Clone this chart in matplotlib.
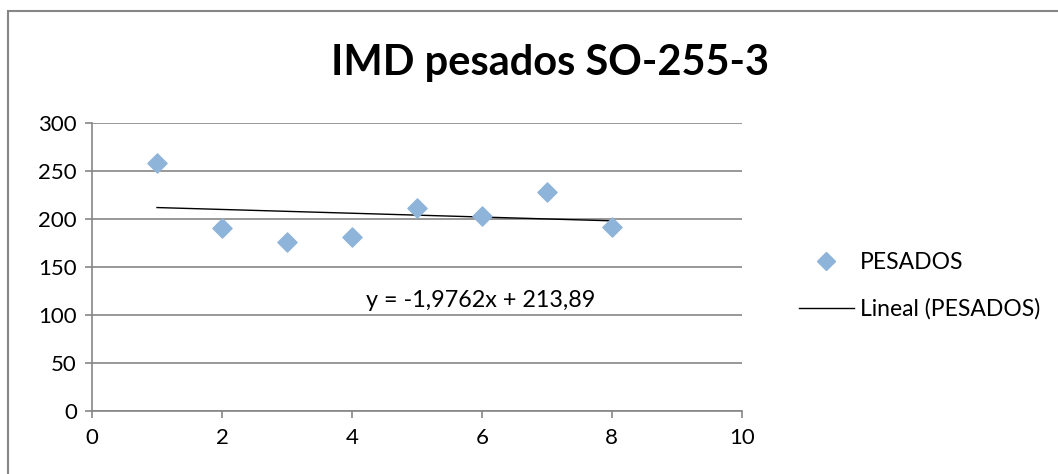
import matplotlib.pyplot as plt
import numpy as np
from matplotlib.patches import Rectangle
from matplotlib.lines import Line2D

plt.rcParams['font.family'] = ['Lato', 'DejaVu Sans']

# datos
x = [1, 2, 3, 4, 5, 6, 7, 8]
pesados = [258, 191, 176, 181, 211, 203, 228, 192]
titulo = 'IMD pesados SO-255-3'
xticks = [0, 2, 4, 6, 8, 10]
yticks = [0, 50, 100, 150, 200, 250, 300]

fig = plt.figure(figsize=(10.58, 4.74), dpi=100)
ax = fig.add_axes([0.087, 0.133, 0.614, 0.6075])

# marco exterior del gráfico
fig.patches.append(Rectangle((8 / 1058, -0.1), 1.2, 1 - 11 / 474 + 0.1, transform=fig.transFigure,
                             fill=False, edgecolor='#868686', linewidth=1.5))

grid_c = '#868686'
ax.scatter(x, pesados, marker='D', s=95, color='#8EB4D9', zorder=3)

m, b = np.polyfit(x, pesados, 1)
xs = np.array([min(x), max(x)])
ax.plot(xs, m * xs + b, color='black', linewidth=1, zorder=2)

eq = 'y = {:.4f}x + {:.2f}'.format(m, b).replace('.', ',')
ax.text(4.22, 104, eq, fontsize=16.8, ha='left', va='bottom')

ax.set_xlim(0, 10)
ax.set_ylim(0, 300)
ax.set_xticks(xticks)
ax.set_yticks(yticks)
ax.yaxis.grid(True, color=grid_c, linewidth=1.2)
ax.set_axisbelow(True)
for s in ['top', 'right']:
    ax.spines[s].set_visible(False)
for s in ['left', 'bottom']:
    ax.spines[s].set_color(grid_c)
    ax.spines[s].set_linewidth(1.2)
ax.tick_params(colors=grid_c, labelcolor='black', labelsize=16, length=5, width=1.2)
ax.tick_params(axis='x', pad=7)
ax.tick_params(axis='y', pad=6)

fig.text(0.52, 0.867, titulo, fontsize=30, fontweight='bold', ha='center', va='center')

handles = [Line2D([], [], marker='D', linestyle='none', color='#8EB4D9', markersize=9.5),
           Line2D([], [], color='black', linewidth=1)]
fig.legend(handles, ['PESADOS', 'Lineal (PESADOS)'], loc='center left',
           bbox_to_anchor=(0.7355, 0.397), frameon=False, fontsize=16.5,
           handlelength=2.4, handletextpad=0.25, labelspacing=1.1)

fig.savefig('out.png', dpi=100)
